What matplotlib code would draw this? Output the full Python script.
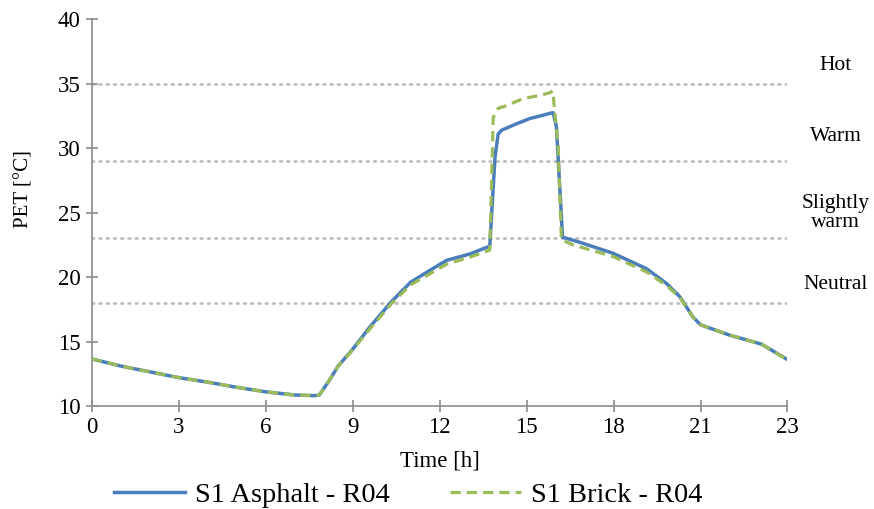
import matplotlib
matplotlib.use("Agg")
import matplotlib.pyplot as plt

# ---- data (x in axis units: tick positions 0,3,...,21,24 labelled 0..23) ----
asphalt_t = [0.0, 1.0, 2.0, 3.0, 4.0, 5.0, 6.0, 7.0, 7.7, 7.85, 8.2, 8.5, 9.0, 9.6,
             10.0, 10.34, 11.0, 11.5, 12.24, 13.05, 13.73, 13.91, 14.02, 14.14, 14.66,
             15.11, 15.46, 15.86, 15.92, 16.03, 16.24, 16.84, 17.98, 19.14, 19.83,
             20.29, 20.74, 21.0, 22.0, 23.1, 24.0]
asphalt_v = [13.65, 13.1, 12.65, 12.2, 11.85, 11.45, 11.1, 10.85, 10.8, 10.85, 12.0,
             13.1, 14.4, 16.15, 17.2, 18.1, 19.6, 20.3, 21.3, 21.8, 22.4, 29.3, 31.1,
             31.4, 31.9, 32.3, 32.5, 32.74, 32.75, 31.65, 23.1, 22.7, 21.85, 20.65,
             19.5, 18.47, 16.9, 16.3, 15.5, 14.8, 13.6]

brick_t = [0.0, 1.0, 2.0, 3.0, 4.0, 5.0, 6.0, 7.0, 7.7, 7.85, 8.2, 8.5, 9.0, 9.6,
           10.0, 10.34, 11.0, 11.5, 12.24, 13.05, 13.73, 13.85, 14.02, 14.31, 14.87,
           15.46, 15.8, 15.9, 15.97, 16.09, 16.2, 16.6, 17.98, 19.14, 19.83, 20.29,
           20.74, 21.0, 22.0, 23.1, 24.0]
brick_v = [13.65, 13.1, 12.65, 12.2, 11.85, 11.45, 11.1, 10.85, 10.8, 10.85, 12.0,
           13.1, 14.35, 16.0, 17.05, 17.95, 19.4, 20.05, 21.0, 21.55, 22.1, 32.4, 33.1,
           33.3, 33.85, 34.1, 34.3, 34.45, 32.9, 30.1, 22.9, 22.5, 21.6, 20.4, 19.35,
           18.4, 16.9, 16.3, 15.5, 14.8, 13.6]

x_ticks = [0, 3, 6, 9, 12, 15, 18, 21, 24]
x_ticklabels = ["0", "3", "6", "9", "12", "15", "18", "21", "23"]
y_ticks = [10, 15, 20, 25, 30, 35, 40]

thresholds = [18, 23, 29, 35]
zone_labels = ["Neutral", "Slightly\nwarm", "Warm", "Hot"]
zone_label_y = [19.4, 25.0, 30.9, 36.4]

series_names = ["S1 Asphalt - R04", "S1 Brick - R04"]

# ---- style ----
plt.rcParams['font.family'] = ['Liberation Serif', 'DejaVu Serif']
blue = "#4A7EBB"
green = "#9BBB59"
axis_grey = "#8C8C8C"

fig = plt.figure(figsize=(8.74, 5.09), dpi=100)
ax = fig.add_axes([0.105, 0.2024, 0.796, 0.7596])

for th in thresholds:
    ax.axhline(th, color="#BFBFBF", lw=2.0, linestyle=(0, (0.6, 2.0)),
               dash_capstyle='round', zorder=1)

ax.plot(asphalt_t, asphalt_v, color=blue, lw=2.5, label=series_names[0], zorder=3,
        solid_joinstyle='round')
ax.plot(brick_t, brick_v, color=green, lw=2.3, linestyle=(0, (3.2, 1.9)),
        label=series_names[1], zorder=4)

ax.set_xlim(0, 24)
ax.set_ylim(10, 40)
ax.set_xticks(x_ticks)
ax.set_xticklabels(x_ticklabels)
ax.set_yticks(y_ticks)

for s in ["top", "right"]:
    ax.spines[s].set_visible(False)
for s in ["left", "bottom"]:
    ax.spines[s].set_color(axis_grey)
    ax.spines[s].set_linewidth(1.2)

ax.tick_params(axis='both', direction='inout', length=8, width=1.2, color=axis_grey,
               labelsize=16.5, pad=4, labelcolor='black')

ax.set_xlabel("Time [h]", fontsize=16.5, labelpad=9)
fig.text(24 / 874, 1 - 189 / 509, "PET [°C]", rotation=90, fontsize=15,
         ha='center', va='center')

for lab, yy in zip(zone_labels, zone_label_y):
    ax.text(25.67, yy, lab, ha='center', va='center', fontsize=15.5,
            linespacing=1.0, clip_on=False)

fig.legend(loc='center', bbox_to_anchor=(0.467, 0.027), ncol=2, frameon=False,
           fontsize=20.5, handlelength=2.5, handletextpad=0.35, columnspacing=2.1,
           borderaxespad=0, borderpad=0)

fig.savefig("out.png", dpi=100)
